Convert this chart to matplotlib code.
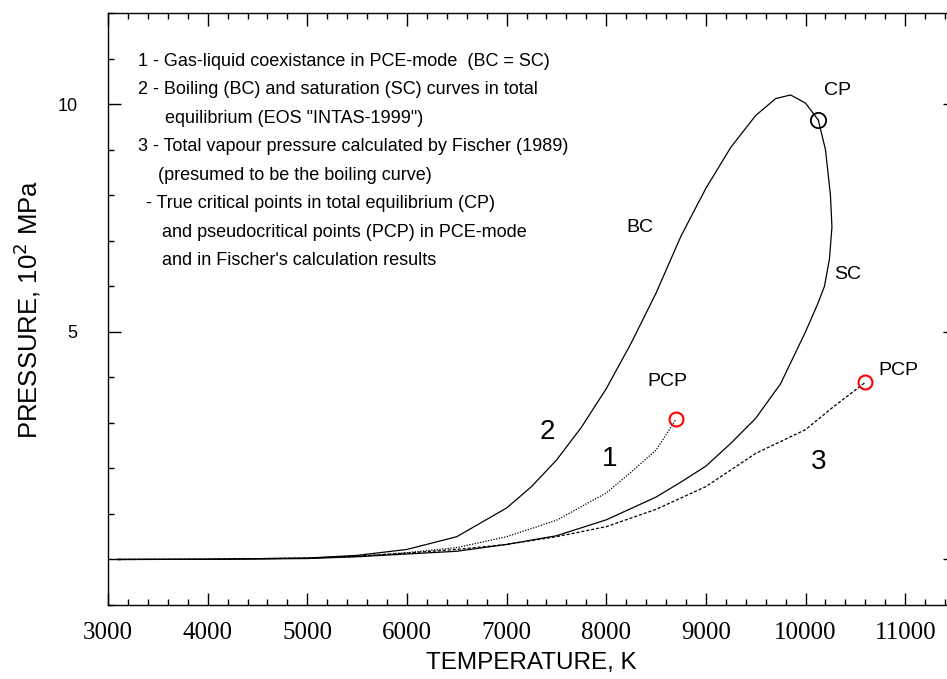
import matplotlib
matplotlib.use('Agg')
import matplotlib.pyplot as plt
from matplotlib.ticker import MultipleLocator, FixedLocator

# curve 2: boiling curve (BC) up to CP, then saturation curve (SC) back down
t_bc = [3100, 4000, 5000, 5500, 6000, 6500, 7000, 7250, 7500, 7750, 8000, 8250,
        8500, 8750, 9000, 9250, 9500, 9700, 9850, 10000, 10128]
p_bc = [0.0, 0.005, 0.03, 0.09, 0.22, 0.50, 1.13, 1.6, 2.18, 2.9, 3.75, 4.75,
        5.85, 7.1, 8.15, 9.05, 9.75, 10.12, 10.2, 10.02, 9.65]
t_sc = [10128, 10200, 10250, 10265, 10240, 10190, 10120, 10000, 9750, 9500,
        9250, 9000, 8750, 8500, 8000, 7500, 7000, 6500, 6000, 5500, 5000, 4000, 3100]
p_sc = [9.65, 9.0, 8.0, 7.3, 6.6, 6.0, 5.6, 5.0, 3.86, 3.1,
        2.55, 2.05, 1.7, 1.37, 0.87, 0.52, 0.33, 0.18, 0.12, 0.06, 0.02, 0.003, 0.0]

# curve 1: PCE-mode coexistence (dotted)
t_pce = [3100, 4000, 5000, 5500, 6000, 6500, 7000, 7500, 8000, 8250, 8500, 8700]
p_pce = [0.0, 0.005, 0.03, 0.07, 0.15, 0.26, 0.5, 0.86, 1.46, 1.92, 2.4, 3.08]

# curve 3: Fischer (1989) total vapour pressure (dashed)
t_fis = [3100, 4000, 5000, 5500, 6000, 6500, 7000, 7500, 8000, 8500, 9000,
         9500, 10000, 10250, 10600]
p_fis = [0.0, 0.005, 0.03, 0.07, 0.14, 0.22, 0.33, 0.5, 0.72, 1.1, 1.6,
         2.33, 2.85, 3.3, 3.89]

cp = (10128, 9.65)
pcp = [(8700, 3.08), (10600, 3.89)]

notes = ['1 - Gas-liquid coexistance in PCE-mode  (BC = SC)',
         '2 - Boiling (BC) and saturation (SC) curves in total',
         'equilibrium (EOS "INTAS-1999")',
         '3 - Total vapour pressure calculated by Fischer (1989)',
         '(presumed to be the boiling curve)',
         '- True critical points in total equilibrium (CP)',
         'and pseudocritical points (PCP) in PCE-mode',
         'and in Fischer\'s calculation results']
note_x = [3300, 3300, 3570, 3300, 3500, 3380, 3545, 3545]

plt.rcParams['font.family'] = ['Liberation Sans', 'DejaVu Sans']

fig = plt.figure(figsize=(9.47, 6.79), dpi=100)
ax = fig.add_axes([108/947, 74/679, 847/947, 592/679])

ax.plot(t_bc, p_bc, color='k', lw=0.9)
ax.plot(t_sc, p_sc, color='k', lw=0.9)
ax.plot(t_pce, p_pce, color='k', lw=0.9, ls=(0, (1, 1.2)))
ax.plot(t_fis, p_fis, color='k', lw=0.9, ls=(0, (2.5, 1.5)))
ax.plot(*cp, 'o', ms=11, mfc='none', mec='k', mew=1.3)
for t, p in pcp:
    ax.plot(t, p, 'o', ms=10, mfc='none', mec='red', mew=1.5)

ax.set_xlim(3000, 11500)
ax.set_ylim(-1, 12)

ax.xaxis.set_major_locator(MultipleLocator(1000))
ax.xaxis.set_minor_locator(MultipleLocator(200))
ax.yaxis.set_major_locator(FixedLocator([0, 5, 10]))
ax.yaxis.set_minor_locator(MultipleLocator(1))
ax.set_yticklabels(['', '5', '10'])
ax.tick_params(which='both', direction='in', top=True, right=True, width=1)
ax.tick_params(which='major', length=9)
ax.tick_params(which='minor', length=4.5)
ax.tick_params(axis='x', pad=12)
ax.tick_params(axis='y', pad=22)
for lab in ax.get_xticklabels():
    lab.set_fontfamily('Liberation Serif')
    lab.set_fontsize(18)
for lab in ax.get_yticklabels():
    lab.set_fontsize(13)
for s in ax.spines.values():
    s.set_linewidth(1.0)

ax.set_xlabel('TEMPERATURE, K', fontsize=17.5, labelpad=6)
ax.set_ylabel('PRESSURE, 10$^2$ MPa', fontsize=18.5, labelpad=10)

y0 = 10.94
for i, s in enumerate(notes):
    ax.text(note_x[i], y0 - i*0.625, s, fontsize=13, ha='left', va='center')

ax.text(10320, 10.3, 'CP', fontsize=14, ha='center', va='center')
ax.text(8340, 7.3, 'BC', fontsize=14, ha='center', va='center')
ax.text(10420, 6.25, 'SC', fontsize=14, ha='center', va='center')
ax.text(8610, 3.9, 'PCP', fontsize=14, ha='center', va='center')
ax.text(10930, 4.15, 'PCP', fontsize=14, ha='center', va='center')
ax.text(7410, 2.8, '2', fontsize=20, ha='center', va='center')
ax.text(8030, 2.2, '1', fontsize=20, ha='center', va='center')
ax.text(10130, 2.13, '3', fontsize=20, ha='center', va='center')

fig.savefig('out.png', dpi=100)
